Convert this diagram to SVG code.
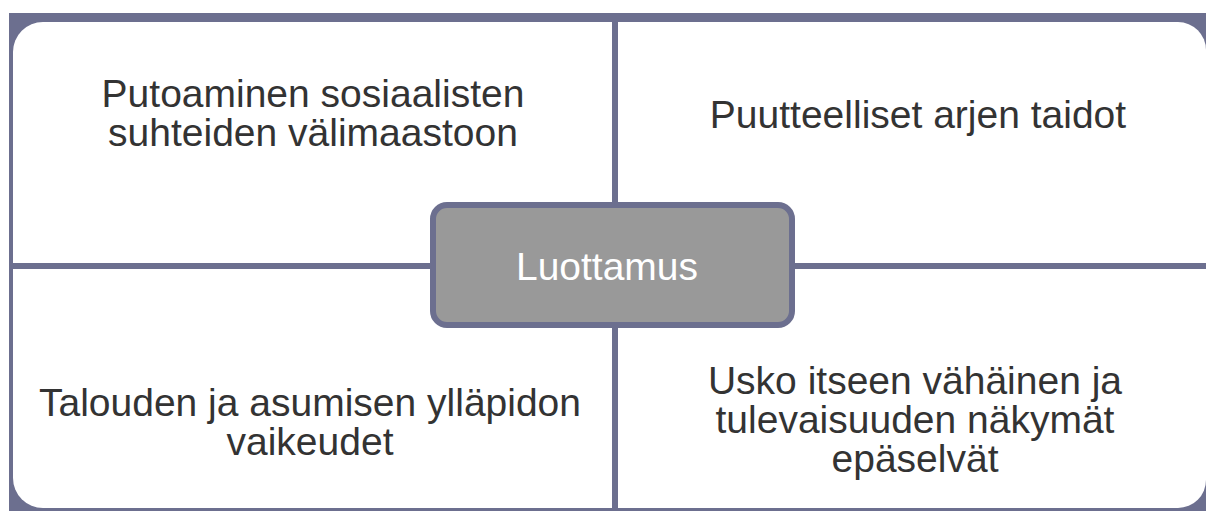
<svg xmlns="http://www.w3.org/2000/svg" width="1206" height="511" viewBox="0 0 1206 511">
<style>
.q{fill:#ffffff}
.t{font-family:"Liberation Sans",Arial,sans-serif;font-size:39px;fill:#333333;text-anchor:middle}
.c{font-family:"Liberation Sans",Arial,sans-serif;font-size:39px;fill:#ffffff;text-anchor:middle}
.box{fill:#999999;stroke:#6c6f8f;stroke-width:6}
</style>
<rect x="0" y="0" width="1206" height="511" fill="#ffffff"/>
<rect id="frame" x="9" y="13" width="1197" height="498" fill="#6c6f8f"/>
<g id="q-top-left">
<path class="q" d="M13,52 A30,30 0 0 1 43,22 L612,22 L612,263 L13,263 Z"/>
<text class="t" x="313" y="107">Putoaminen sosiaalisten</text>
<text class="t" x="313" y="146">suhteiden välimaastoon</text>
</g>
<g id="q-top-right">
<path class="q" d="M618,22 L1178,22 A28,28 0 0 1 1206,50 L1206,263 L618,263 Z"/>
<text class="t" x="918" y="128">Puutteelliset arjen taidot</text>
</g>
<g id="q-bottom-left">
<path class="q" d="M13,269 L612,269 L612,508 L43,508 A30,30 0 0 1 13,478 Z"/>
<text class="t" x="310" y="416">Talouden ja asumisen ylläpidon</text>
<text class="t" x="310" y="455">vaikeudet</text>
</g>
<g id="q-bottom-right">
<path class="q" d="M618,269 L1206,269 L1206,480 A28,28 0 0 1 1178,508 L618,508 Z"/>
<text class="t" x="915" y="394">Usko itseen vähäinen ja</text>
<text class="t" x="915" y="433">tulevaisuuden näkymät</text>
<text class="t" x="915" y="472">epäselvät</text>
</g>
<g id="center">
<rect class="box" x="433" y="205" width="359" height="120" rx="14"/>
<text class="c" x="607" y="280">Luottamus</text>
</g>
</svg>
